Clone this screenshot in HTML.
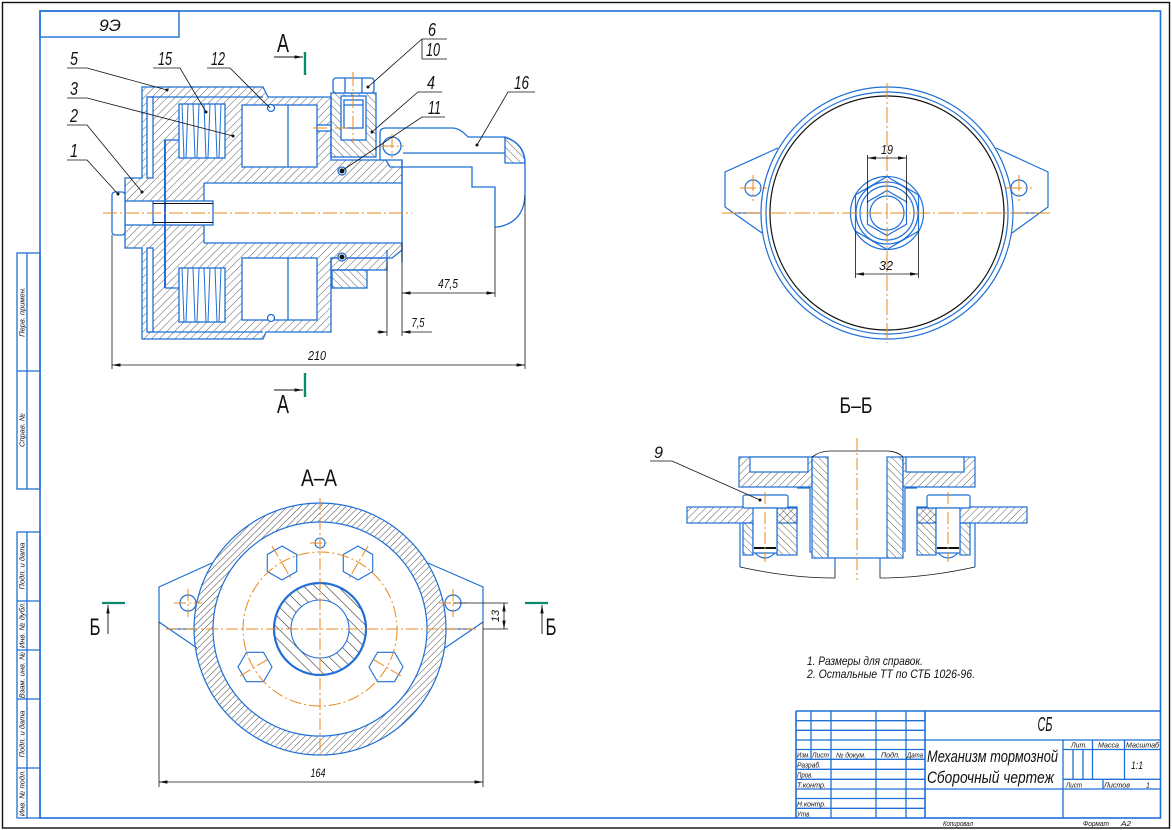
<!DOCTYPE html>
<html><head><meta charset="utf-8"><style>
html,body{margin:0;padding:0;background:#fff;}
svg{display:block;}
text{font-family:"Liberation Sans Narrow","Liberation Sans","DejaVu Sans",sans-serif;font-style:italic;fill:#111;}
.u{font-style:normal;}
</style></head><body>
<svg width="1172" height="830" viewBox="0 0 1172 830" xmlns="http://www.w3.org/2000/svg">
<defs>
<pattern id="hf" width="5.5" height="5.5" patternUnits="userSpaceOnUse" patternTransform="rotate(45)"><line x1="0" y1="0" x2="0" y2="5.5" stroke="#333" stroke-width="0.8"/></pattern>
<pattern id="hb" width="5.5" height="5.5" patternUnits="userSpaceOnUse" patternTransform="rotate(-45)"><line x1="0" y1="0" x2="0" y2="5.5" stroke="#333" stroke-width="0.8"/></pattern>
<pattern id="hr" width="4.6" height="4.6" patternUnits="userSpaceOnUse" patternTransform="rotate(45)"><line x1="0" y1="0" x2="0" y2="4.6" stroke="#222" stroke-width="0.8"/></pattern>
<pattern id="hh" width="8" height="8" patternUnits="userSpaceOnUse" patternTransform="rotate(-45)"><line x1="0" y1="0" x2="0" y2="8" stroke="#222" stroke-width="1.1"/></pattern>
<pattern id="hf2" width="5.2" height="5.2" patternUnits="userSpaceOnUse" patternTransform="rotate(45)"><line x1="0" y1="0" x2="0" y2="5.2" stroke="#333" stroke-width="0.8"/></pattern>
<pattern id="hb2" width="5.2" height="5.2" patternUnits="userSpaceOnUse" patternTransform="rotate(-45)"><line x1="0" y1="0" x2="0" y2="5.2" stroke="#333" stroke-width="0.8"/></pattern>
<marker id="ar" viewBox="0 0 10 4" refX="10" refY="2" markerWidth="9" markerHeight="3.4" orient="auto-start-reverse" markerUnits="userSpaceOnUse"><path d="M0,0 L10,2 L0,4 z" fill="#111"/></marker>
</defs>
<rect width="1172" height="830" fill="#fff"/>

<!-- frames -->
<rect x="2.5" y="2.5" width="1167" height="825.5" fill="none" stroke="#111" stroke-width="1.4"/>
<rect x="40" y="11" width="1120.5" height="807" fill="none" stroke="#1f6fd6" stroke-width="1.6"/>
<rect x="40" y="11" width="139" height="26" fill="none" stroke="#1f6fd6" stroke-width="1.4"/>
<text x="110" y="31" font-size="17" text-anchor="middle" textLength="22" lengthAdjust="spacingAndGlyphs">9Э</text>

<!-- left strip -->
<g stroke="#1f6fd6" stroke-width="1.3" fill="none">
<rect x="17" y="253" width="23" height="236"/>
<line x1="27" y1="253" x2="27" y2="489"/>
<line x1="17" y1="371" x2="40" y2="371"/>
<rect x="17" y="532" width="23" height="286"/>
<line x1="27" y1="532" x2="27" y2="818"/>
<line x1="17" y1="601" x2="40" y2="601"/>
<line x1="17" y1="650" x2="40" y2="650"/>
<line x1="17" y1="699" x2="40" y2="699"/>
<line x1="17" y1="768" x2="40" y2="768"/>
</g>
<g font-size="7.5" text-anchor="middle">
<text transform="translate(24.5,312) rotate(-90)">Перв. примен.</text>
<text transform="translate(24.5,430) rotate(-90)">Справ. №</text>
<text transform="translate(24.5,566) rotate(-90)">Подп. и дата</text>
<text transform="translate(24.5,625) rotate(-90)">Инв. № дубл.</text>
<text transform="translate(24.5,675) rotate(-90)">Взам. инв. №</text>
<text transform="translate(24.5,734) rotate(-90)">Подп. и дата</text>
<text transform="translate(24.5,793) rotate(-90)">Инв. № подл.</text>
</g>

<!-- ================= TOP SECTION VIEW ================= -->
<g stroke="#1f6fd6" stroke-width="1.3">
<polygon points="142,87 263,87 268,97 331,97 331,160 386,160 390,167 402,167 402,213 125,213 125,178 142,178" fill="url(#hf)"/>
<polygon points="125,213 402,213 402,250 392,258 331,258 331,332 266,332 263,339 142,339 142,248 125,248" fill="url(#hf)"/>
<line x1="147" y1="97" x2="263" y2="97"/>
<line x1="147" y1="332" x2="263" y2="332"/>
<rect x="147" y="97" width="6" height="81" fill="#fff"/>
<rect x="147" y="248" width="6" height="84" fill="#fff"/>
<rect x="179" y="104" width="46" height="54" fill="#fff"/>
<rect x="179" y="268" width="46" height="54" fill="#fff"/>
<rect x="242" y="105" width="75" height="62" fill="#fff"/>
<rect x="242" y="258" width="75" height="62" fill="#fff"/>
<line x1="288" y1="105" x2="288" y2="167"/>
<line x1="288" y1="258" x2="288" y2="320"/>
<rect x="317" y="125" width="14" height="6" fill="#fff"/>
<rect x="204" y="183" width="198" height="60" fill="#fff" stroke="none"/>
<line x1="204" y1="183" x2="402" y2="183"/>
<line x1="204" y1="243" x2="402" y2="243"/>
<line x1="204" y1="183" x2="204" y2="201"/>
<line x1="204" y1="225" x2="204" y2="243"/>
<rect x="125" y="201" width="88" height="24" fill="#fff"/>
<line x1="153" y1="201" x2="153" y2="225"/>
<rect x="112" y="192" width="13" height="43" rx="3" fill="#fff"/>
<line x1="165" y1="140" x2="165" y2="288" stroke-width="2"/>
<line x1="165" y1="140" x2="179" y2="140"/>
<line x1="165" y1="288" x2="179" y2="288"/>
<!-- part 4 / plug -->
<rect x="331" y="93" width="45" height="64" fill="url(#hb)"/>
<rect x="341" y="96" width="25" height="44" fill="#fff"/>
<rect x="344" y="100" width="19" height="28" fill="#fff"/>
<line x1="344" y1="105" x2="363" y2="105"/>
<rect x="333" y="78" width="41" height="15" rx="3" fill="#fff"/>
<line x1="345" y1="78" x2="345" y2="93"/>
<line x1="362" y1="78" x2="362" y2="93"/>
<!-- lower part 4 -->
<rect x="331" y="258" width="56" height="12" fill="url(#hf)"/>
<rect x="332" y="270" width="35" height="18" fill="url(#hb)"/>
<!-- part 16 -->
<path d="M380,160 L380,133 Q380,128 386,128 L452,128 Q460,128 468,137 L503,137 Q525,142 525,165 L525,195 Q524,222 498,227 L495,227 L495,187 L472,187 L472,167 L402,167 L402,160 Z" fill="#fff"/>
<path d="M505,137 Q523,143 525,160 L525,163 L505,163 Z" fill="url(#hb)"/>
<line x1="403" y1="153" x2="505" y2="153"/>
<line x1="402" y1="160" x2="402" y2="262"/>
<line x1="387" y1="250" x2="387" y2="262"/>
<circle cx="392" cy="146" r="9" fill="#fff"/>
<circle cx="271" cy="108" r="3.5" fill="#fff"/>
<circle cx="342" cy="171" r="4" fill="#fff"/>
<circle cx="342" cy="257" r="4" fill="#fff"/>
<circle cx="271" cy="318" r="3.5" fill="#fff"/>
</g>
<!-- springs -->
<g stroke="#1f6fd6" stroke-width="1" fill="none">
<path d="M182,104 L184,158 M188,104 L186,158 M193,104 L195,158 M199,104 L197,158 M204,104 L206,158 M210,104 L208,158 M215,104 L217,158 M221,104 L219,158"/>
<path d="M182,268 L184,322 M188,268 L186,322 M193,268 L195,322 M199,268 L197,322 M204,268 L206,322 M210,268 L208,322 M215,268 L217,322 M221,268 L219,322"/>
</g>
<g stroke="#111" stroke-width="1">
<line x1="153" y1="203.5" x2="213" y2="203.5"/>
<line x1="153" y1="222.5" x2="213" y2="222.5"/>
<circle cx="342" cy="171" r="2" fill="#111"/>
<circle cx="342" cy="257" r="2" fill="#111"/>
</g>
<g stroke="#e8881c" stroke-width="1" stroke-dasharray="14,3,2,3">
<line x1="103" y1="213" x2="412" y2="213"/>
<line x1="353" y1="72" x2="353" y2="143"/>
<line x1="313" y1="128" x2="348" y2="128"/>
<line x1="380" y1="146" x2="404" y2="146"/>
<line x1="392" y1="134" x2="392" y2="158"/>
</g>
<!-- dims top -->
<g stroke="#111" stroke-width="0.8" fill="none">
<line x1="112" y1="235" x2="112" y2="369"/>
<line x1="525" y1="195" x2="525" y2="369"/>
<line x1="112" y1="365" x2="525" y2="365" marker-start="url(#ar)" marker-end="url(#ar)"/>
<line x1="495" y1="227" x2="495" y2="297"/>
<line x1="402" y1="243" x2="402" y2="336"/>
<line x1="387" y1="262" x2="387" y2="336"/>
<line x1="402" y1="293" x2="495" y2="293" marker-start="url(#ar)" marker-end="url(#ar)"/>
<line x1="377" y1="332" x2="387" y2="332" marker-end="url(#ar)"/>
<line x1="432" y1="332" x2="402" y2="332" marker-end="url(#ar)"/>
</g>
<text x="317" y="360" font-size="13" text-anchor="middle" textLength="18" lengthAdjust="spacingAndGlyphs">210</text>
<text x="448" y="288" font-size="13" text-anchor="middle" textLength="20" lengthAdjust="spacingAndGlyphs">47,5</text>
<text x="418" y="327" font-size="13" text-anchor="middle" textLength="13" lengthAdjust="spacingAndGlyphs">7,5</text>
<!-- section A marks -->
<line x1="305" y1="52" x2="305" y2="75" stroke="#0d8a6e" stroke-width="2.4"/>
<line x1="305" y1="373" x2="305" y2="397" stroke="#0d8a6e" stroke-width="2.4"/>
<line x1="274" y1="57" x2="303" y2="57" stroke="#111" stroke-width="0.9" marker-end="url(#ar)"/>
<line x1="274" y1="390" x2="303" y2="390" stroke="#111" stroke-width="0.9" marker-end="url(#ar)"/>
<text class="u" x="283" y="52" font-size="26" text-anchor="middle" textLength="12" lengthAdjust="spacingAndGlyphs">A</text>
<text class="u" x="283" y="413" font-size="26" text-anchor="middle" textLength="12" lengthAdjust="spacingAndGlyphs">A</text>
<!-- leaders -->
<g stroke="#111" stroke-width="0.8" fill="none">
<path d="M67,68 L87,68 L167,90"/>
<path d="M67,98 L87,98 L233,136"/>
<path d="M67,125 L87,125 L142,192"/>
<path d="M67,160 L87,160 L118,194"/>
<path d="M153,68 L180,68 L206,112"/>
<path d="M207,68 L230,68 L270,108"/>
<path d="M447,39 L422,39 L422,59 L447,59 M422,39 L368,87"/>
<path d="M442,92 L418,92 L372,132"/>
<path d="M445,117 L422,117 L343,170"/>
<path d="M535,92 L508,92 L477,145"/>
</g>
<g fill="#111">
<circle cx="167" cy="90" r="1.5"/><circle cx="233" cy="136" r="1.5"/><circle cx="142" cy="192" r="1.5"/><circle cx="118" cy="194" r="1.5"/>
<circle cx="206" cy="112" r="1.5"/><circle cx="368" cy="87" r="1.5"/><circle cx="372" cy="132" r="1.5"/><circle cx="477" cy="145" r="1.5"/>
</g>
<g font-size="18">
<text x="70" y="65" textLength="8" lengthAdjust="spacingAndGlyphs">5</text>
<text x="70" y="95" textLength="8" lengthAdjust="spacingAndGlyphs">3</text>
<text x="70" y="122" textLength="8" lengthAdjust="spacingAndGlyphs">2</text>
<text x="70" y="157" textLength="8" lengthAdjust="spacingAndGlyphs">1</text>
<text x="158" y="65" textLength="14" lengthAdjust="spacingAndGlyphs">15</text>
<text x="211" y="65" textLength="14" lengthAdjust="spacingAndGlyphs">12</text>
<text x="428" y="36" textLength="8" lengthAdjust="spacingAndGlyphs">6</text>
<text x="426" y="56" textLength="14" lengthAdjust="spacingAndGlyphs">10</text>
<text x="427" y="89" textLength="8" lengthAdjust="spacingAndGlyphs">4</text>
<text x="428" y="114" textLength="13" lengthAdjust="spacingAndGlyphs">11</text>
<text x="514" y="89" textLength="15" lengthAdjust="spacingAndGlyphs">16</text>
</g>

<!-- ================= TOP RIGHT VIEW ================= -->
<g stroke="#1f6fd6" stroke-width="1.2" fill="none">
<circle cx="887" cy="213" r="126"/>
<circle cx="887" cy="213" r="121"/>
<polyline points="778,148 725,172 725,207 762,233"/>
<polyline points="996,148 1048,172 1048,207 1012,233"/>
<line x1="735" y1="213" x2="762" y2="213"/>
<line x1="1012" y1="213" x2="1040" y2="213"/>
<circle cx="753" cy="188" r="8"/>
<circle cx="1019" cy="188" r="8"/>
<polygon points="887,176.6 918.5,194.8 918.5,231.2 887,249.4 855.5,231.2 855.5,194.8"/>
<circle cx="887" cy="213" r="36.5"/>
<circle cx="887" cy="213" r="31"/>
<circle cx="887" cy="213" r="27"/>
<polygon points="887,190.5 906.5,201.75 906.5,224.25 887,235.5 867.5,224.25 867.5,201.75"/>
<circle cx="887" cy="213" r="17"/>
</g>
<circle cx="887" cy="213" r="117" fill="none" stroke="#111" stroke-width="1.2"/>
<g stroke="#e8881c" stroke-width="1" stroke-dasharray="16,3,2,3">
<line x1="722" y1="213" x2="1050" y2="213"/>
<line x1="887" y1="83" x2="887" y2="343"/>
<line x1="740" y1="188" x2="767" y2="188"/>
<line x1="753" y1="175" x2="753" y2="201"/>
<line x1="1006" y1="188" x2="1032" y2="188"/>
<line x1="1019" y1="175" x2="1019" y2="201"/>
</g>
<g stroke="#111" stroke-width="0.8">
<line x1="867.5" y1="155" x2="867.5" y2="203"/>
<line x1="906.5" y1="155" x2="906.5" y2="203"/>
<line x1="867.5" y1="158" x2="906.5" y2="158" marker-start="url(#ar)" marker-end="url(#ar)"/>
<line x1="855.5" y1="231" x2="855.5" y2="278"/>
<line x1="918.5" y1="231" x2="918.5" y2="278"/>
<line x1="855.5" y1="274" x2="918.5" y2="274" marker-start="url(#ar)" marker-end="url(#ar)"/>
</g>
<text x="887" y="154" font-size="13" text-anchor="middle" textLength="12" lengthAdjust="spacingAndGlyphs">19</text>
<text x="886" y="270" font-size="13" text-anchor="middle" textLength="14" lengthAdjust="spacingAndGlyphs">32</text>

<!-- ================= A-A VIEW ================= -->
<text class="u" x="319" y="486" font-size="24" text-anchor="middle" textLength="36" lengthAdjust="spacingAndGlyphs">A–A</text>
<g stroke="#1f6fd6" stroke-width="1.2" fill="none">
<polyline points="212,563 159,587 159,622 197,648"/>
<polyline points="428,563 483,587 483,622 445,648"/>
<line x1="168" y1="629" x2="196" y2="629"/>
<line x1="445" y1="629" x2="472" y2="629"/>
<circle cx="188" cy="603" r="8"/>
<circle cx="453" cy="603" r="8"/>
</g>
<path d="M194,629 a126,126 0 1,0 252,0 a126,126 0 1,0 -252,0 Z M213,629 a107,107 0 1,0 214,0 a107,107 0 1,0 -214,0 Z" fill="url(#hr)" fill-rule="evenodd" stroke="#1f6fd6" stroke-width="1.2"/>
<path d="M274,629 a46,46 0 1,0 92,0 a46,46 0 1,0 -92,0 Z M291,629 a29,29 0 1,0 58,0 a29,29 0 1,0 -58,0 Z" fill="url(#hh)" fill-rule="evenodd"/>
<circle cx="320" cy="629" r="46" fill="none" stroke="#1f6fd6" stroke-width="2.2"/>
<circle cx="320" cy="629" r="29" fill="none" stroke="#1f6fd6" stroke-width="1.1"/>
<g stroke="#1f6fd6" stroke-width="1.1" fill="none">
<polygon points="282,546 296.7,554.5 296.7,571.5 282,580 267.3,571.5 267.3,554.5"/>
<polygon points="358,546 372.7,554.5 372.7,571.5 358,580 343.3,571.5 343.3,554.5"/>
<polygon points="238,667 246.5,652.3 263.5,652.3 272,667 263.5,681.7 246.5,681.7"/>
<polygon points="369,667 377.5,652.3 394.5,652.3 403,667 394.5,681.7 377.5,681.7"/>
<circle cx="320" cy="543" r="5"/>
</g>
<g stroke="#e8881c" stroke-width="1" fill="none" stroke-dasharray="12,3,2,3">
<circle cx="320" cy="629" r="77"/>
<line x1="166" y1="629" x2="476" y2="629"/>
<line x1="320" y1="498" x2="320" y2="758"/>
<line x1="174" y1="603" x2="202" y2="603"/>
<line x1="188" y1="589" x2="188" y2="617"/>
<line x1="439" y1="603" x2="467" y2="603"/>
<line x1="453" y1="589" x2="453" y2="617"/>
<line x1="310" y1="543" x2="330" y2="543"/>
<line x1="272" y1="546" x2="292" y2="580"/>
<line x1="368" y1="546" x2="348" y2="580"/>
<line x1="240" y1="676" x2="270" y2="658"/>
<line x1="401" y1="676" x2="371" y2="658"/>
</g>
<g stroke="#111" stroke-width="0.8">
<line x1="159" y1="622" x2="159" y2="787"/>
<line x1="483" y1="622" x2="483" y2="787"/>
<line x1="159" y1="782" x2="483" y2="782" marker-start="url(#ar)" marker-end="url(#ar)"/>
<line x1="453" y1="603" x2="508" y2="603"/>
<line x1="483" y1="629" x2="508" y2="629"/>
<line x1="504" y1="603" x2="504" y2="629" marker-start="url(#ar)" marker-end="url(#ar)"/>
</g>
<text x="318" y="777" font-size="12" text-anchor="middle" textLength="15" lengthAdjust="spacingAndGlyphs">164</text>
<text transform="translate(499,616) rotate(-90)" font-size="11" text-anchor="middle">13</text>
<!-- Б marks -->
<line x1="102" y1="603" x2="125" y2="603" stroke="#0d8a6e" stroke-width="2.2"/>
<line x1="525" y1="603" x2="548" y2="603" stroke="#0d8a6e" stroke-width="2.2"/>
<line x1="108" y1="634" x2="108" y2="605" stroke="#111" stroke-width="0.9" marker-end="url(#ar)"/>
<line x1="542" y1="634" x2="542" y2="605" stroke="#111" stroke-width="0.9" marker-end="url(#ar)"/>
<text class="u" x="95" y="635" font-size="24" text-anchor="middle" textLength="11" lengthAdjust="spacingAndGlyphs">Б</text>
<text class="u" x="551" y="635" font-size="24" text-anchor="middle" textLength="11" lengthAdjust="spacingAndGlyphs">Б</text>

<!-- ================= Б-Б VIEW ================= -->
<text class="u" x="856" y="413" font-size="22" text-anchor="middle" textLength="33" lengthAdjust="spacingAndGlyphs">Б–Б</text>
<g stroke="#1f6fd6" stroke-width="1.2">
<rect x="687" y="507" width="110" height="16" fill="url(#hf2)"/>
<rect x="917" y="507" width="110" height="16" fill="url(#hf2)"/>
<rect x="743" y="523" width="10" height="32" fill="url(#hb2)"/>
<rect x="777" y="508" width="20" height="47" fill="url(#hb2)"/>
<rect x="960" y="523" width="10" height="32" fill="url(#hb2)"/>
<rect x="917" y="508" width="19" height="47" fill="url(#hb2)"/>
<rect x="739" y="457" width="73" height="30" fill="url(#hf2)"/>
<rect x="750" y="457" width="58" height="15" fill="#fff"/>
<rect x="903" y="457" width="72" height="30" fill="url(#hf2)"/>
<rect x="906" y="457" width="58" height="15" fill="#fff"/>
<rect x="812" y="457" width="16" height="101" fill="url(#hb2)"/>
<rect x="887" y="457" width="16" height="101" fill="url(#hb2)"/>
<rect x="743" y="495" width="45" height="13" rx="2" fill="#fff"/>
<rect x="753" y="508" width="24" height="45" fill="#fff"/>
<rect x="927" y="495" width="43" height="13" rx="2" fill="#fff"/>
<rect x="936" y="508" width="24" height="45" fill="#fff"/>
<path d="M755,553 Q765,563 775,553 M938,553 Q948,563 958,553" fill="none"/>
<path d="M797,488 L810,488 L810,552 L812,552 M905,488 L905,552 M917,488 L905,488" fill="none"/>
<path d="M740,523 L740,567 M835,567 L835,558 M975,523 L975,567 M880,567 L880,558 M828,558 L887,558" fill="none"/>
</g>
<g stroke="#111" stroke-width="0.8" fill="none">
<path d="M812,457 Q820,451 830,451 L887,451 Q897,451 903,457"/>
<path d="M740,567 Q790,578 835,578 L835,567 M975,567 Q925,578 880,578 L880,567"/>
</g>
<g stroke="#111" stroke-width="2">
<line x1="754" y1="548" x2="776" y2="548"/>
<line x1="937" y1="548" x2="959" y2="548"/>
</g>
<g stroke="#e8881c" stroke-width="1" stroke-dasharray="12,3,2,3">
<line x1="857" y1="438" x2="857" y2="580"/>
<line x1="765" y1="492" x2="765" y2="562"/>
<line x1="948" y1="492" x2="948" y2="562"/>
</g>
<path d="M650,461 L672,461 L760,500" stroke="#111" stroke-width="0.8" fill="none"/>
<circle cx="760" cy="500" r="1.5" fill="#111"/>
<text x="654" y="458" font-size="17" textLength="9" lengthAdjust="spacingAndGlyphs">9</text>

<!-- notes -->
<text x="807" y="665" font-size="11.5" textLength="116" lengthAdjust="spacingAndGlyphs">1. Размеры для справок.</text>
<text x="807" y="678" font-size="11.5" textLength="168" lengthAdjust="spacingAndGlyphs">2. Остальные ТТ по СТБ 1026-96.</text>

<!-- ================= TITLE BLOCK ================= -->
<g stroke="#1f6fd6" stroke-width="1.3" fill="none">
<line x1="796" y1="711" x2="1161" y2="711" stroke-width="1.6"/>
<line x1="796" y1="711" x2="796" y2="818" stroke-width="1.6"/>
<line x1="811" y1="711" x2="811" y2="759"/>
<line x1="831" y1="711" x2="831" y2="818"/>
<line x1="876" y1="711" x2="876" y2="818"/>
<line x1="906" y1="711" x2="906" y2="818"/>
<line x1="925" y1="711" x2="925" y2="818" stroke-width="1.6"/>
<line x1="796" y1="720.7" x2="925" y2="720.7"/>
<line x1="796" y1="730.3" x2="925" y2="730.3"/>
<line x1="796" y1="740" x2="925" y2="740"/>
<line x1="796" y1="749.5" x2="925" y2="749.5"/>
<line x1="796" y1="759.3" x2="925" y2="759.3"/>
<line x1="796" y1="769.3" x2="925" y2="769.3"/>
<line x1="796" y1="779.3" x2="925" y2="779.3"/>
<line x1="796" y1="789" x2="925" y2="789"/>
<line x1="796" y1="798.5" x2="925" y2="798.5"/>
<line x1="796" y1="808.3" x2="925" y2="808.3"/>
<line x1="925" y1="740" x2="1161" y2="740"/>
<line x1="925" y1="789" x2="1161" y2="789"/>
<line x1="1063" y1="740" x2="1063" y2="818"/>
<line x1="1063" y1="749.5" x2="1161" y2="749.5"/>
<line x1="1063" y1="779.3" x2="1161" y2="779.3"/>
<line x1="1092.5" y1="740" x2="1092.5" y2="779.3"/>
<line x1="1124.5" y1="740" x2="1124.5" y2="779.3"/>
<line x1="1073" y1="749.5" x2="1073" y2="779.3"/>
<line x1="1083" y1="749.5" x2="1083" y2="779.3"/>
<line x1="1103" y1="779.3" x2="1103" y2="789"/>
</g>
<g font-size="7">
<text x="797" y="757.5" textLength="13" lengthAdjust="spacingAndGlyphs">Изм.</text>
<text x="812" y="757.5" textLength="17" lengthAdjust="spacingAndGlyphs">Лист</text>
<text x="836" y="757.5" textLength="30" lengthAdjust="spacingAndGlyphs">№ докум.</text>
<text x="881" y="757.5" textLength="19" lengthAdjust="spacingAndGlyphs">Подп.</text>
<text x="907" y="757.5" textLength="16" lengthAdjust="spacingAndGlyphs">Дата</text>
<text x="797" y="767.5" textLength="24" lengthAdjust="spacingAndGlyphs">Разраб.</text>
<text x="797" y="777.5" textLength="16" lengthAdjust="spacingAndGlyphs">Пров.</text>
<text x="797" y="787.3" textLength="29" lengthAdjust="spacingAndGlyphs">Т.контр.</text>
<text x="797" y="806.5" textLength="29" lengthAdjust="spacingAndGlyphs">Н.контр.</text>
<text x="797" y="816.3" textLength="14" lengthAdjust="spacingAndGlyphs">Утв.</text>
<text x="1071" y="747.5" textLength="16" lengthAdjust="spacingAndGlyphs">Лит.</text>
<text x="1098" y="747.5" textLength="21" lengthAdjust="spacingAndGlyphs">Масса</text>
<text x="1126" y="747.5" textLength="33" lengthAdjust="spacingAndGlyphs">Масштаб</text>
<text x="1066" y="787.3" textLength="16" lengthAdjust="spacingAndGlyphs">Лист</text>
<text x="1104" y="787.3" textLength="26" lengthAdjust="spacingAndGlyphs">Листов</text>
<text x="1146" y="787.3">1</text>
<text x="943" y="826" textLength="30" lengthAdjust="spacingAndGlyphs">Копировал</text>
<text x="1083" y="826" textLength="26" lengthAdjust="spacingAndGlyphs">Формат</text>
<text x="1121" y="826" textLength="10" lengthAdjust="spacingAndGlyphs">А2</text>
</g>
<text x="1045" y="731" font-size="20" text-anchor="middle" textLength="15" lengthAdjust="spacingAndGlyphs">СБ</text>
<text x="927" y="762" font-size="17" textLength="131" lengthAdjust="spacingAndGlyphs">Механизм тормозной</text>
<text x="927" y="783" font-size="17" textLength="127" lengthAdjust="spacingAndGlyphs">Сборочный чертеж</text>
<text x="1137" y="769" font-size="11" text-anchor="middle" textLength="12" lengthAdjust="spacingAndGlyphs">1:1</text>
</svg>
</body></html>
